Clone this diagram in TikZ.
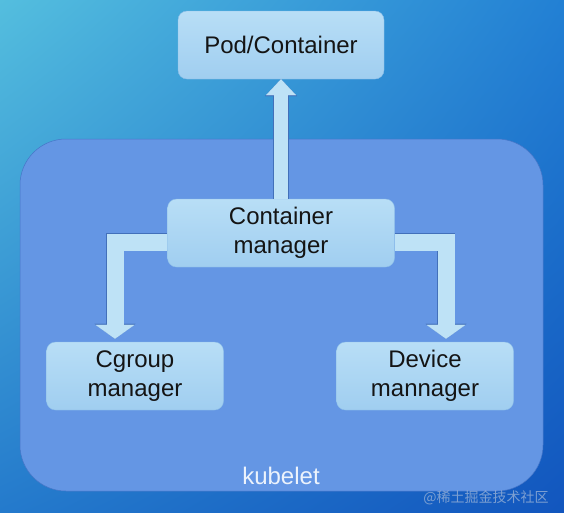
\documentclass[tikz,border=0pt]{standalone}
\usepackage{fontspec}
\setmainfont{Liberation Sans}
\newfontfamily\cjkfont{Noto Sans CJK SC}
\usetikzlibrary{arrows.meta, shadings}
\definecolor{bgtl}{RGB}{84,190,222}
\definecolor{bgtr}{RGB}{34,128,212}
\definecolor{bgbl}{RGB}{36,122,204}
\definecolor{bgbr}{RGB}{18,86,190}
\definecolor{groupfill}{RGB}{100,150,228}
\definecolor{groupedge}{RGB}{70,118,200}
\definecolor{boxtop}{RGB}{184,222,246}
\definecolor{boxbot}{RGB}{160,206,240}
\definecolor{boxedge}{RGB}{140,190,232}
\definecolor{arrowfill}{RGB}{190,226,246}
\definecolor{arrowedge}{RGB}{66,112,186}
\definecolor{wmark}{RGB}{150,176,214}

\begin{document}
\begin{tikzpicture}[x=1pt, y=-1pt,
  font=\fontsize{24}{29}\selectfont,
  group/.style={draw=groupedge, line width=0.5pt, fill=groupfill, rounded corners=46pt,
                inner sep=0pt},
  mgr/.style={draw=boxedge, line width=0.4pt, rounded corners=9pt, top color=boxtop,
              bottom color=boxbot, align=center, text=black!92, inner sep=0pt,
              minimum height=68pt},
  uplink/.style={draw=arrowfill, line width=14pt,
                 -{Triangle[width=30pt,length=16pt,line width=0.1pt]},
                 preaction={draw=arrowedge, line width=15.4pt,
                            -{Triangle[width=32pt,length=17pt,line width=0.1pt]}}},
  sidelink/.style={draw=arrowfill, line width=17pt,
                   -{Triangle[width=39pt,length=14pt,line width=0.1pt]},
                   preaction={draw=arrowedge, line width=18.4pt,
                              -{Triangle[width=41pt,length=15pt,line width=0.1pt]}}}
]
\shade[upper left=bgtl, upper right=bgtr, lower left=bgbl, lower right=bgbr]
  (0,0) rectangle (564,512);
\useasboundingbox (0,0) rectangle (564,512);
\node[group, minimum width=523pt, minimum height=352pt] (kubelet) at (281.5,315) {};
\node[anchor=base, text=white!88!groupfill] (kubeletlabel) at (281,484) {kubelet};
\node[mgr, minimum width=206pt] (pod) at (281,45)  {Pod/Container};
\node[mgr, minimum width=227pt] (cm)  at (281,233) {Container\\manager};
\node[mgr, minimum width=177pt] (cg)  at (135,376) {Cgroup\\manager};
\node[mgr, minimum width=177pt] (dm)  at (425,376) {Device\\mannager};
\draw[uplink] (cm.north) -- (pod.south);
\draw[sidelink] ([yshift=-9pt]cm.west) -| ([xshift=-20pt,yshift=3pt]cg.north);
\draw[sidelink] ([yshift=-9pt]cm.east) -| ([xshift=21pt,yshift=3pt]dm.north);
\node[font=\cjkfont\fontsize{14}{14}\selectfont, text=wmark, text opacity=0.8]
  (watermark) at (486,498) {@稀土掘金技术社区};
\end{tikzpicture}
\end{document}
